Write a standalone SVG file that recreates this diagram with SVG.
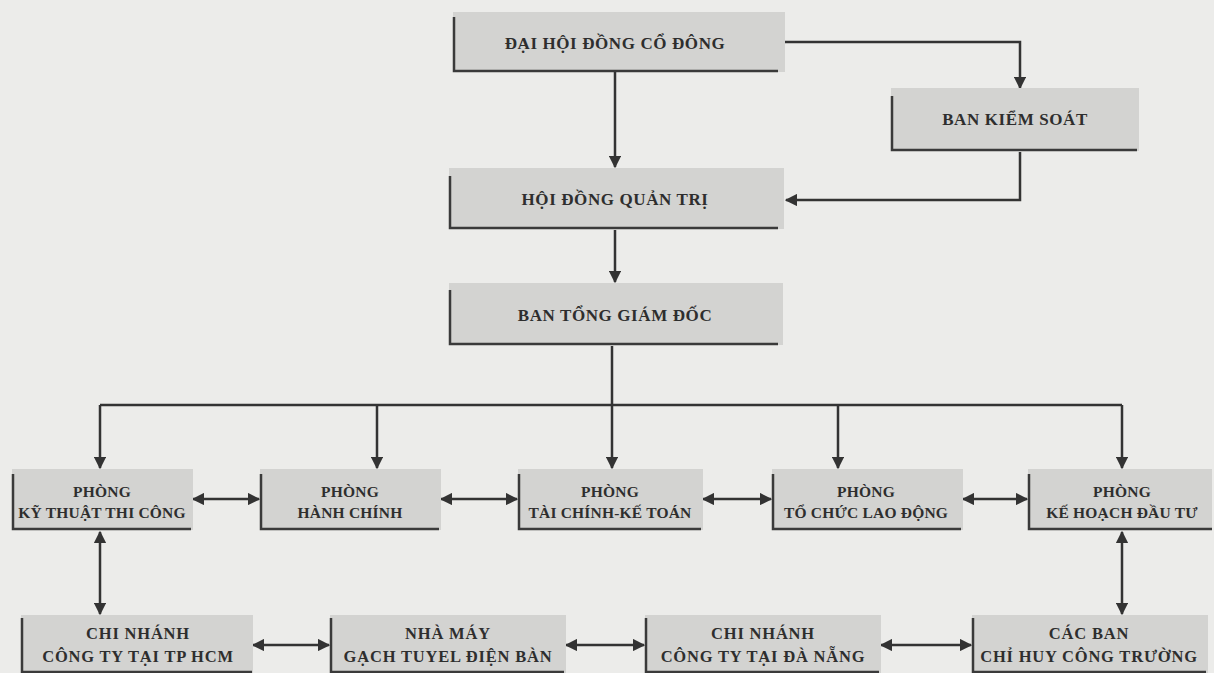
<svg xmlns="http://www.w3.org/2000/svg" width="1214" height="673" viewBox="0 0 1214 673">
<style>
.bg{fill:#ececea}
.box{fill:#d3d3d1}
.edge{stroke:#3a3a3a;stroke-width:2.5;fill:none}
.t{font-family:"Liberation Serif","DejaVu Serif",serif;font-weight:bold;fill:#2e2e2e;text-anchor:middle}
.big{font-size:17px;letter-spacing:0.6px}
.sm{font-size:15.5px;letter-spacing:0.2px}
.bt{font-size:16.5px;letter-spacing:0.8px}
.c{stroke:#333;stroke-width:2.5;fill:none}
</style>
<defs>
<marker id="ah" viewBox="0 0 10 10" refX="9" refY="5" markerWidth="5" markerHeight="5" orient="auto-start-reverse" markerUnits="strokeWidth">
<path d="M0,0 L10,5 L0,10 z" fill="#333"/>
</marker>
</defs>
<rect class="bg" x="0" y="0" width="1214" height="673"/>

<g id="connectors">
<path class="c" d="M785,42 H1020 V88" marker-end="url(#ah)"/>
<path class="c" d="M615,72 V167" marker-end="url(#ah)"/>
<path class="c" d="M1020,152 V200 H786" marker-end="url(#ah)"/>
<path class="c" d="M615,230 V282" marker-end="url(#ah)"/>
<path class="c" d="M612,346 V405"/>
<path class="c" d="M100,405 H1122"/>
<path class="c" d="M100,405 V468" marker-end="url(#ah)"/>
<path class="c" d="M377,405 V468" marker-end="url(#ah)"/>
<path class="c" d="M612,405 V468" marker-end="url(#ah)"/>
<path class="c" d="M838,405 V468" marker-end="url(#ah)"/>
<path class="c" d="M1122,405 V468" marker-end="url(#ah)"/>
<path class="c" d="M193,499 H259" marker-start="url(#ah)" marker-end="url(#ah)"/>
<path class="c" d="M441,499 H517" marker-start="url(#ah)" marker-end="url(#ah)"/>
<path class="c" d="M703,499 H771" marker-start="url(#ah)" marker-end="url(#ah)"/>
<path class="c" d="M963,499 H1027" marker-start="url(#ah)" marker-end="url(#ah)"/>
<path class="c" d="M100,532 V614" marker-start="url(#ah)" marker-end="url(#ah)"/>
<path class="c" d="M1122,532 V614" marker-start="url(#ah)" marker-end="url(#ah)"/>
<path class="c" d="M253,645 H329" marker-start="url(#ah)" marker-end="url(#ah)"/>
<path class="c" d="M566,645 H644" marker-start="url(#ah)" marker-end="url(#ah)"/>
<path class="c" d="M881,645 H971" marker-start="url(#ah)" marker-end="url(#ah)"/>
</g>

<g id="dhdcd">
<rect class="box" x="453" y="12" width="332" height="60"/>
<path class="edge" d="M454,17 V71 H778"/>
<text class="t big" x="615" y="49">ĐẠI HỘI ĐỒNG CỔ ĐÔNG</text>
</g>
<g id="bks">
<rect class="box" x="891" y="88" width="248" height="63"/>
<path class="edge" d="M892,96 V150 H1137"/>
<text class="t big" x="1015" y="125">BAN KIỂM SOÁT</text>
</g>
<g id="hdqt">
<rect class="box" x="449" y="168" width="335" height="61"/>
<path class="edge" d="M450,176 V228 H778"/>
<text class="t big" x="615" y="205">HỘI ĐỒNG QUẢN TRỊ</text>
</g>
<g id="btgd">
<rect class="box" x="449" y="283" width="334" height="62"/>
<path class="edge" d="M450,290 V344 H778"/>
<text class="t big" x="615" y="321">BAN TỔNG GIÁM ĐỐC</text>
</g>

<g id="p-ktthicong">
<rect class="box" x="12" y="469" width="181" height="61"/>
<path class="edge" d="M13,474 V529 H191"/>
<text class="t sm" x="102" y="497">PHÒNG</text>
<text class="t sm" x="102" y="518">KỸ THUẬT THI CÔNG</text>
</g>
<g id="p-hanhchinh">
<rect class="box" x="260" y="469" width="181" height="61"/>
<path class="edge" d="M261,474 V529 H439"/>
<text class="t sm" x="350" y="497">PHÒNG</text>
<text class="t sm" x="350" y="518">HÀNH CHÍNH</text>
</g>
<g id="p-taichinh">
<rect class="box" x="518" y="469" width="185" height="61"/>
<path class="edge" d="M519,474 V529 H701"/>
<text class="t sm" x="610" y="497">PHÒNG</text>
<text class="t sm" x="610" y="518">TÀI CHÍNH-KẾ TOÁN</text>
</g>
<g id="p-tochuc">
<rect class="box" x="772" y="469" width="191" height="61"/>
<path class="edge" d="M773,474 V529 H961"/>
<text class="t sm" x="866" y="497">PHÒNG</text>
<text class="t sm" x="866" y="518">TỔ CHỨC LAO ĐỘNG</text>
</g>
<g id="p-kehoach">
<rect class="box" x="1028" y="469" width="184" height="61"/>
<path class="edge" d="M1029,474 V529 H1212"/>
<text class="t sm" x="1122" y="497">PHÒNG</text>
<text class="t sm" x="1122" y="518">KẾ HOẠCH ĐẦU TƯ</text>
</g>

<g id="cn-hcm">
<rect class="box" x="21" y="615" width="232" height="58"/>
<path class="edge" d="M22,618 V672 H252"/>
<text class="t bt" x="138" y="639">CHI NHÁNH</text>
<text class="t bt" x="138" y="662">CÔNG TY TẠI TP HCM</text>
</g>
<g id="nm-dienban">
<rect class="box" x="330" y="615" width="236" height="58"/>
<path class="edge" d="M331,618 V672 H564"/>
<text class="t bt" x="448" y="639">NHÀ MÁY</text>
<text class="t bt" x="448" y="662">GẠCH TUYEL ĐIỆN BÀN</text>
</g>
<g id="cn-danang">
<rect class="box" x="645" y="615" width="236" height="58"/>
<path class="edge" d="M646,618 V672 H879"/>
<text class="t bt" x="763" y="639">CHI NHÁNH</text>
<text class="t bt" x="763" y="662">CÔNG TY TẠI ĐÀ NẴNG</text>
</g>
<g id="cac-ban">
<rect class="box" x="972" y="615" width="236" height="58"/>
<path class="edge" d="M973,618 V672 H1206"/>
<text class="t bt" x="1089" y="639">CÁC BAN</text>
<text class="t bt" x="1089" y="662">CHỈ HUY CÔNG TRƯỜNG</text>
</g>
</svg>
